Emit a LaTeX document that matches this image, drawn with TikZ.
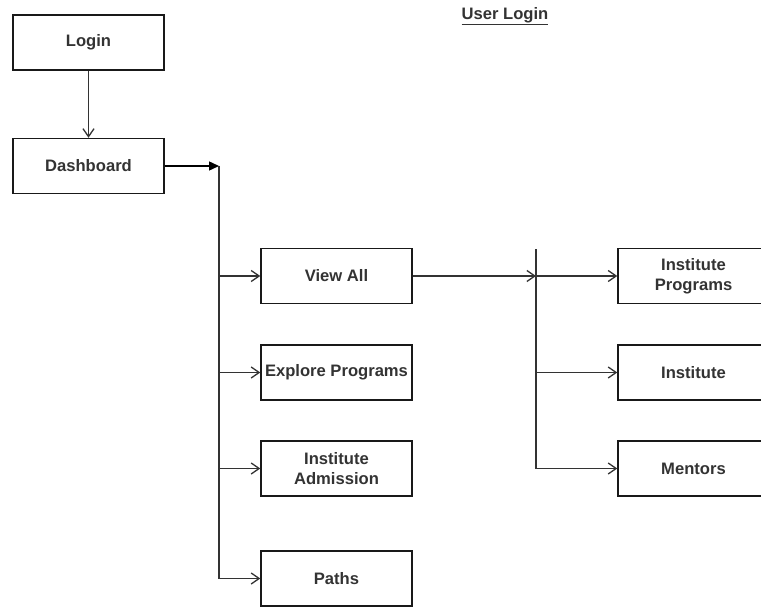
\documentclass[tikz,border=0pt]{standalone}
\usepackage{fontspec}
\setmainfont{Liberation Sans}
\usetikzlibrary{arrows.meta}
\begin{document}
\begin{tikzpicture}[x=1pt,y=-1pt,
  box/.style={draw=black!90, line width=1.4pt, minimum width=151pt, minimum height=55pt, inner sep=0pt,
    align=center, text=black!80, font=\fontsize{16.6}{19.5}\selectfont\bfseries},
  conn/.style={draw=black!80, line width=1.4pt},
  openarr/.style={conn, -{Straight Barb[length=8pt,width=11pt,line width=1.3pt]}},
  fillarr/.style={conn, draw=black, -{Triangle[length=10pt,width=9pt]}}]
\useasboundingbox (0,0) rectangle (761,607);
\node[box] (login) at (88.5,42.5) {Login};
\node[box] (dash) at (88.5,166) {Dashboard};
\node[box] (view) at (336.5,276) {View All};
\node[box] (explore) at (336.5,372.5) {Explore Programs};
\node[box] (admission) at (336.5,468.5) {Institute\\Admission};
\node[box] (paths) at (336.5,578.5) {Paths};
\node[box] (iprog) at (693.5,276) {Institute\\Programs};
\node[box] (inst) at (693.5,372.5) {Institute};
\node[box] (ment) at (693.5,468.5) {Mentors};
\node[font=\fontsize{16.6}{19.5}\selectfont\bfseries, text=black!80, inner sep=0pt] (title) at (505,16) {\underline{User Login}};
\coordinate (s0) at (219,166);
\coordinate (s1) at (219,276);
\coordinate (s2) at (219,372.5);
\coordinate (s3) at (219,468.5);
\coordinate (s4) at (219,578.5);
\coordinate (r0) at (536,249);
\coordinate (r1) at (536,276);
\coordinate (r2) at (536,372.5);
\coordinate (r3) at (536,468.5);
\draw[openarr] (login) -- (dash);
\draw[fillarr] (dash) -- (s0);
\draw[conn] (s0) -- (s4);
\draw[openarr] (s1) -- (view);
\draw[openarr] (s2) -- (explore);
\draw[openarr] (s3) -- (admission);
\draw[openarr] (s4) -- (paths);
\draw[openarr] (view) -- (r1);
\draw[conn] (r0) -- (r3);
\draw[openarr] (r1) -- (iprog);
\draw[openarr] (r2) -- (inst);
\draw[openarr] (r3) -- (ment);
\end{tikzpicture}
\end{document}
